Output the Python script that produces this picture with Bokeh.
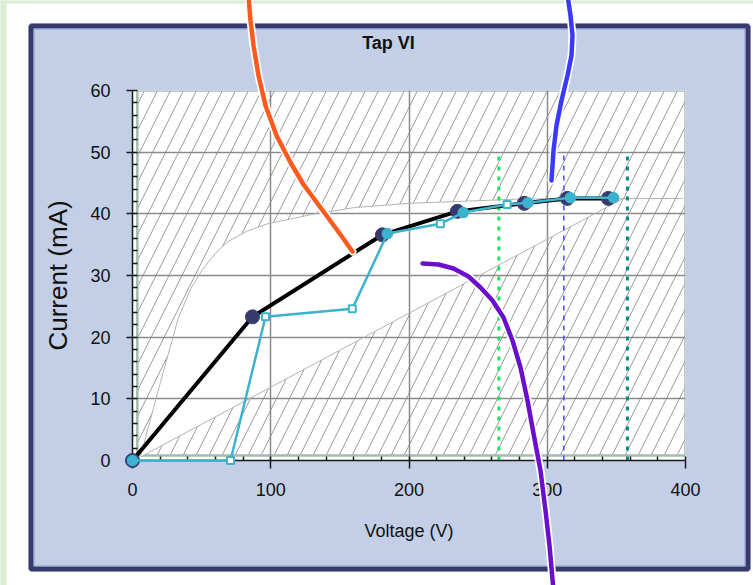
from bokeh.plotting import figure
from bokeh.models import (Label, SingleIntervalTicker, Range1d,
                          ColumnDataSource, CDSView, IndexFilter)
from bokeh.embed import file_html
from bokeh.resources import INLINE

W, H = 753, 585

title_text = "Tap VI"
x_title = "Voltage (V)"
y_title = "Current (mA)"

# measured operating points (black line, navy markers)
meas_v = [0, 86.8, 180.8, 235, 283.4, 314.5, 344.2]
meas_i = [0, 23.3, 36.6, 40.4, 41.7, 42.5, 42.5]

# second series (cyan)
sim_v = [0, 70.9, 96.2, 159, 184.4, 222.7, 239.3, 271, 286, 316.7, 348]
sim_i = [0, 0, 23.3, 24.6, 36.8, 38.4, 40.2, 41.5, 41.8, 42.6, 42.6]

# boundaries of the allowed (un-hatched) region
upper_v = [6, 20, 33, 42, 50, 60, 69, 83, 98, 132, 160, 200, 280, 398]
upper_i = [0.8, 12.5, 23.0, 27.8, 30.8, 33.6, 35.5, 37.2, 38.4, 40.0, 41.0, 41.7, 42.4, 42.5]
lower_v = [6, 355]
lower_i = [0.6, 42.5]

# vertical reference voltages
ref_v = [265, 312, 358]
ref_top = 50

# hand-drawn overlay strokes (page pixels, y from top)
orange_x = [248, 250, 253, 258, 265, 276, 290, 303, 320, 337, 352]
orange_y = [-5, 20, 45, 75, 105, 135, 162, 184, 207, 230, 251]
blue_x = [567, 570, 572, 571, 567, 561, 556, 553, 551]
blue_y = [-5, 15, 35, 55, 75, 100, 125, 150, 180]
purple_x = [422, 438, 453, 468, 480, 492, 503, 512, 520, 527, 533, 540, 545, 549, 553]
purple_y = [263, 264, 268, 276, 287, 300, 317, 340, 367, 400, 433, 470, 510, 545, 590]

PANEL = "#c3cfe6"
NAVY = "#363a6c"
CYAN = "#3cb2cc"
FONT = "Liberation Sans"

p = figure(width=W, height=H, x_range=(0, 400), y_range=(0, 60),
           output_backend="svg", toolbar_location=None,
           min_border_left=132, min_border_right=68, min_border_top=90, min_border_bottom=125,
           border_fill_color=PANEL, background_fill_color="white", outline_line_color=None)

# page-pixel coordinate system for the page decoration (frame spans 132..685, 90..460)
p.extra_x_ranges = {"px": Range1d(132, 685)}
p.extra_y_ranges = {"px": Range1d(460, 90)}
PX = dict(x_range_name="px", y_range_name="px", level="overlay")

# plot area: hatched rect, white allowed region
p.quad(left=3.5, right=400, bottom=0.8, top=60, fill_color="white", hatch_pattern="/",
       hatch_color="#9c9c9c", hatch_scale=26, hatch_weight=1,
       line_color="#a4bcad", line_width=2.5, level="image")
p.patch(x=upper_v + lower_v[::-1], y=upper_i + lower_i[::-1], fill_color="white",
        line_color=None, level="image")

p.line(upper_v, upper_i, line_color="#b4b4b4", line_width=1)
p.line(lower_v, lower_i, line_color="#b4b4b4", line_width=1)

# axes
p.xaxis.ticker = SingleIntervalTicker(interval=100, num_minor_ticks=5)
p.yaxis.ticker = SingleIntervalTicker(interval=10, num_minor_ticks=5)
p.xaxis.axis_label = x_title
p.yaxis.axis_label = y_title
for ax in (p.xaxis[0], p.yaxis[0]):
    ax.axis_line_color = "#1a1a1a"
    ax.axis_line_width = 1.5
    ax.major_tick_line_color = "#1a1a1a"
    ax.major_tick_line_width = 1.5
    ax.minor_tick_line_color = "#1a1a1a"
    ax.minor_tick_line_width = 1.5
    ax.major_tick_in = 0
    ax.minor_tick_out = 0
    ax.major_label_text_font = FONT
    ax.major_label_text_font_size = "18px"
    ax.major_label_text_color = "#111111"
    ax.axis_label_text_font = FONT
    ax.axis_label_text_font_style = "normal"
    ax.axis_label_text_color = "#111111"
p.xaxis.major_tick_out = 8
p.xaxis.minor_tick_in = 4
p.yaxis.major_tick_out = 6
p.yaxis.minor_tick_in = 5
p.xaxis.major_label_standoff = 14
p.yaxis.major_label_standoff = 16
p.xaxis.axis_label_text_font_size = "18px"
p.xaxis.axis_label_standoff = 22
p.yaxis.axis_label_text_font_size = "26px"
p.yaxis.axis_label_standoff = 14

p.grid.grid_line_color = "#8a8a8a"
p.grid.grid_line_width = 1.5

# reference verticals
p.segment(x0=[ref_v[0]], y0=[0], x1=[ref_v[0]], y1=[ref_top],
          line_color="#18e860", line_width=3, line_dash="4 6")
p.segment(x0=[ref_v[1]], y0=[0], x1=[ref_v[1]], y1=[ref_top],
          line_color="#4a4af0", line_width=1.5, line_dash="5 5")
p.segment(x0=[ref_v[2]], y0=[0], x1=[ref_v[2]], y1=[ref_top],
          line_color="#0a8a86", line_width=3, line_dash="4 6")

# data
meas_src = ColumnDataSource(dict(v=meas_v, i=meas_i))
sim_src = ColumnDataSource(dict(v=sim_v, i=sim_i))
p.line("v", "i", source=meas_src, line_color="black", line_width=4)
p.scatter("v", "i", source=meas_src, marker="circle", size=14, fill_color=NAVY,
          line_color=NAVY, level="overlay")
p.line("v", "i", source=sim_src, line_color=CYAN, line_width=2.5, level="overlay")
p.scatter("v", "i", source=sim_src, view=CDSView(filter=IndexFilter([1, 2, 3, 5, 7])),
          marker="square", size=7, fill_color="white", line_color=CYAN, line_width=2,
          level="overlay")
p.scatter("v", "i", source=sim_src, view=CDSView(filter=IndexFilter([0, 4, 6, 8, 9, 10])),
          marker="circle_cross", size=10, fill_color=CYAN, line_color=CYAN, line_width=1.5,
          level="overlay")

# page decoration around the panel
p.quad(left=[0, 0, 0, 750], right=[W, W, 28, W], top=[0, 571, 0, 0], bottom=[23, H, H, H],
       fill_color="white", line_color=None, **PX)
p.quad(left=[0, 0], right=[6, W], top=[0, 0], bottom=[H, 3],
       fill_color="#d8edd3", line_color=None, **PX)
p.quad(left=30.5, right=747.5, top=25.5, bottom=568.5, fill_color=None,
       line_color=NAVY, line_width=5, **PX)
p.quad(left=33.5, right=744.5, top=28.5, bottom=565.5, fill_color=None,
       line_color="#8e9bcc", line_width=1, **PX)

p.add_layout(Label(x=388, y=42, x_units="canvas", y_units="canvas", text=title_text,
                   text_align="center", text_baseline="middle", text_font=FONT,
                   text_font_size="18px", text_font_style="bold", text_color="#111111"),
             "above")

for xs, ys, col in [(orange_x, orange_y, "#ff5a1e"), (blue_x, blue_y, "#3a3aff"),
                    (purple_x, purple_y, "#6a10cc")]:
    p.line(xs, ys, line_color="white", line_width=8, line_cap="round", line_join="round", **PX)
    p.line(xs, ys, line_color=col, line_width=4.5, line_cap="round", line_join="round", **PX)

open("out.html", "w").write(file_html(p, INLINE))
